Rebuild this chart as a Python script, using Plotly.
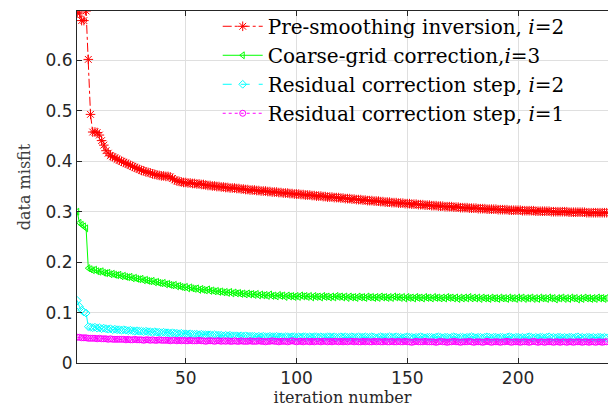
import plotly.graph_objects as go

iterations = list(range(1, 241))

pre_smoothing_i2 = [
    0.694, 0.694, 0.679, 0.679, 0.698, 0.602, 0.493, 0.458, 0.458, 0.457, 0.452, 0.441, 0.432, 0.421, 0.416, 0.411, 0.409, 0.407, 0.404, 0.402,
    0.400, 0.398, 0.396, 0.394, 0.392, 0.390, 0.388, 0.386, 0.384, 0.382, 0.381, 0.379, 0.378, 0.377, 0.375, 0.374, 0.373, 0.372, 0.371, 0.371,
    0.370, 0.370, 0.369, 0.366, 0.363, 0.361, 0.360, 0.359, 0.358, 0.358, 0.357, 0.357, 0.356, 0.356, 0.355, 0.355, 0.354, 0.354, 0.353, 0.352,
    0.352, 0.351, 0.351, 0.350, 0.350, 0.349, 0.349, 0.348, 0.348, 0.347, 0.347, 0.347, 0.346, 0.346, 0.345, 0.345, 0.344, 0.344, 0.343, 0.343,
    0.343, 0.342, 0.342, 0.341, 0.341, 0.341, 0.340, 0.340, 0.339, 0.339, 0.339, 0.338, 0.338, 0.337, 0.337, 0.337, 0.336, 0.336, 0.335, 0.335,
    0.335, 0.334, 0.334, 0.333, 0.333, 0.333, 0.332, 0.332, 0.331, 0.331, 0.331, 0.330, 0.330, 0.329, 0.329, 0.329, 0.328, 0.328, 0.328, 0.327,
    0.327, 0.326, 0.326, 0.326, 0.325, 0.325, 0.324, 0.324, 0.324, 0.323, 0.323, 0.322, 0.322, 0.322, 0.321, 0.321, 0.321, 0.320, 0.320, 0.319,
    0.319, 0.319, 0.318, 0.318, 0.318, 0.317, 0.317, 0.317, 0.316, 0.316, 0.316, 0.315, 0.315, 0.315, 0.314, 0.314, 0.314, 0.313, 0.313, 0.313,
    0.312, 0.312, 0.312, 0.311, 0.311, 0.311, 0.310, 0.310, 0.310, 0.310, 0.309, 0.309, 0.309, 0.308, 0.308, 0.308, 0.308, 0.307, 0.307, 0.307,
    0.307, 0.306, 0.306, 0.306, 0.306, 0.305, 0.305, 0.305, 0.305, 0.305, 0.304, 0.304, 0.304, 0.304, 0.304, 0.303, 0.303, 0.303, 0.303, 0.303,
    0.303, 0.302, 0.302, 0.302, 0.302, 0.302, 0.302, 0.301, 0.301, 0.301, 0.301, 0.301, 0.301, 0.301, 0.300, 0.300, 0.300, 0.300, 0.300, 0.300,
    0.300, 0.300, 0.299, 0.299, 0.299, 0.299, 0.299, 0.299, 0.299, 0.299, 0.298, 0.298, 0.298, 0.298, 0.298, 0.298, 0.298, 0.298, 0.298, 0.298,
]

coarse_grid_i3 = [
    0.300, 0.278, 0.274, 0.271, 0.267, 0.188, 0.186, 0.184, 0.185, 0.182, 0.181, 0.182, 0.179, 0.178, 0.179, 0.176, 0.177, 0.175, 0.174, 0.175,
    0.172, 0.173, 0.171, 0.170, 0.171, 0.168, 0.169, 0.167, 0.166, 0.167, 0.164, 0.165, 0.163, 0.162, 0.163, 0.160, 0.161, 0.159, 0.158, 0.159,
    0.156, 0.157, 0.155, 0.154, 0.155, 0.152, 0.153, 0.151, 0.150, 0.151, 0.148, 0.150, 0.148, 0.147, 0.148, 0.145, 0.147, 0.145, 0.144, 0.146,
    0.143, 0.144, 0.142, 0.143, 0.141, 0.142, 0.140, 0.141, 0.139, 0.141, 0.138, 0.140, 0.138, 0.139, 0.137, 0.138, 0.136, 0.138, 0.136, 0.137,
    0.135, 0.137, 0.134, 0.136, 0.134, 0.135, 0.133, 0.136, 0.133, 0.134, 0.132, 0.135, 0.133, 0.134, 0.131, 0.134, 0.132, 0.133, 0.131, 0.133,
    0.131, 0.134, 0.132, 0.133, 0.131, 0.133, 0.130, 0.133, 0.131, 0.132, 0.130, 0.133, 0.131, 0.132, 0.130, 0.132, 0.130, 0.133, 0.131, 0.132,
    0.130, 0.132, 0.129, 0.132, 0.130, 0.131, 0.129, 0.132, 0.130, 0.131, 0.129, 0.132, 0.130, 0.131, 0.129, 0.131, 0.129, 0.132, 0.130, 0.131,
    0.129, 0.131, 0.129, 0.132, 0.130, 0.131, 0.129, 0.131, 0.128, 0.131, 0.129, 0.130, 0.128, 0.131, 0.129, 0.130, 0.128, 0.131, 0.129, 0.130,
    0.128, 0.131, 0.129, 0.130, 0.128, 0.130, 0.128, 0.131, 0.129, 0.130, 0.128, 0.130, 0.127, 0.130, 0.128, 0.130, 0.128, 0.131, 0.128, 0.130,
    0.128, 0.130, 0.127, 0.130, 0.128, 0.129, 0.127, 0.130, 0.128, 0.129, 0.127, 0.130, 0.128, 0.129, 0.127, 0.130, 0.128, 0.129, 0.127, 0.130,
    0.128, 0.130, 0.127, 0.129, 0.128, 0.130, 0.127, 0.129, 0.127, 0.130, 0.128, 0.129, 0.127, 0.130, 0.128, 0.129, 0.126, 0.129, 0.128, 0.130,
    0.127, 0.129, 0.127, 0.130, 0.128, 0.129, 0.126, 0.129, 0.127, 0.130, 0.128, 0.129, 0.127, 0.129, 0.127, 0.130, 0.128, 0.129, 0.127, 0.129,
]

residual_i2 = [
    0.124, 0.112, 0.105, 0.101, 0.099, 0.072, 0.071, 0.070, 0.071, 0.069, 0.070, 0.068, 0.069, 0.068, 0.067, 0.068, 0.066, 0.067, 0.066, 0.066,
    0.065, 0.066, 0.065, 0.064, 0.065, 0.064, 0.063, 0.064, 0.063, 0.063, 0.062, 0.063, 0.062, 0.062, 0.061, 0.062, 0.061, 0.061, 0.060, 0.061,
    0.060, 0.060, 0.059, 0.060, 0.059, 0.059, 0.058, 0.059, 0.058, 0.058, 0.057, 0.058, 0.057, 0.057, 0.057, 0.056, 0.057, 0.056, 0.056, 0.056,
    0.056, 0.055, 0.056, 0.055, 0.055, 0.055, 0.054, 0.055, 0.054, 0.055, 0.054, 0.054, 0.054, 0.053, 0.054, 0.053, 0.054, 0.053, 0.053, 0.053,
    0.053, 0.052, 0.053, 0.052, 0.053, 0.052, 0.052, 0.053, 0.052, 0.052, 0.053, 0.052, 0.052, 0.051, 0.052, 0.052, 0.051, 0.052, 0.052, 0.051,
    0.052, 0.051, 0.052, 0.052, 0.051, 0.052, 0.051, 0.052, 0.052, 0.051, 0.052, 0.051, 0.051, 0.052, 0.052, 0.051, 0.052, 0.051, 0.051, 0.052,
    0.051, 0.052, 0.051, 0.051, 0.052, 0.051, 0.051, 0.052, 0.051, 0.051, 0.052, 0.051, 0.051, 0.052, 0.051, 0.050, 0.051, 0.052, 0.051, 0.051,
    0.051, 0.052, 0.051, 0.051, 0.052, 0.051, 0.051, 0.050, 0.051, 0.052, 0.051, 0.051, 0.050, 0.051, 0.051, 0.052, 0.051, 0.050, 0.051, 0.051,
    0.051, 0.050, 0.051, 0.052, 0.051, 0.050, 0.051, 0.051, 0.050, 0.051, 0.052, 0.051, 0.050, 0.051, 0.051, 0.050, 0.051, 0.051, 0.052, 0.051,
    0.050, 0.051, 0.051, 0.050, 0.051, 0.052, 0.051, 0.050, 0.051, 0.051, 0.050, 0.051, 0.051, 0.050, 0.051, 0.052, 0.051, 0.050, 0.051, 0.051,
    0.050, 0.051, 0.050, 0.051, 0.052, 0.051, 0.050, 0.051, 0.050, 0.051, 0.051, 0.050, 0.051, 0.052, 0.050, 0.051, 0.050, 0.051, 0.051, 0.050,
    0.051, 0.050, 0.051, 0.051, 0.050, 0.051, 0.052, 0.050, 0.051, 0.050, 0.051, 0.051, 0.050, 0.051, 0.050, 0.051, 0.051, 0.050, 0.051, 0.050,
]

residual_i1 = [
    0.051, 0.051, 0.050, 0.050, 0.050, 0.049, 0.049, 0.049, 0.049, 0.048, 0.049, 0.048, 0.048, 0.048, 0.047, 0.048, 0.047, 0.047, 0.047, 0.047,
    0.047, 0.047, 0.046, 0.047, 0.046, 0.046, 0.047, 0.046, 0.046, 0.046, 0.045, 0.046, 0.046, 0.045, 0.046, 0.045, 0.045, 0.046, 0.045, 0.045,
    0.045, 0.045, 0.044, 0.045, 0.045, 0.044, 0.045, 0.044, 0.045, 0.044, 0.044, 0.045, 0.044, 0.044, 0.044, 0.045, 0.044, 0.044, 0.043, 0.044,
    0.044, 0.044, 0.043, 0.044, 0.044, 0.043, 0.044, 0.043, 0.044, 0.043, 0.043, 0.044, 0.043, 0.043, 0.044, 0.043, 0.043, 0.043, 0.044, 0.043,
    0.043, 0.043, 0.044, 0.043, 0.043, 0.042, 0.043, 0.043, 0.044, 0.043, 0.043, 0.042, 0.043, 0.043, 0.043, 0.042, 0.043, 0.044, 0.043, 0.042,
    0.043, 0.043, 0.042, 0.043, 0.043, 0.042, 0.043, 0.042, 0.043, 0.043, 0.042, 0.043, 0.043, 0.042, 0.043, 0.042, 0.043, 0.043, 0.042, 0.043,
    0.042, 0.043, 0.042, 0.043, 0.043, 0.042, 0.043, 0.042, 0.042, 0.043, 0.042, 0.043, 0.042, 0.042, 0.043, 0.042, 0.043, 0.042, 0.042, 0.043,
    0.042, 0.042, 0.043, 0.042, 0.042, 0.043, 0.042, 0.042, 0.043, 0.042, 0.042, 0.041, 0.042, 0.043, 0.042, 0.042, 0.042, 0.043, 0.042, 0.042,
    0.042, 0.042, 0.041, 0.042, 0.043, 0.042, 0.042, 0.041, 0.042, 0.042, 0.043, 0.042, 0.042, 0.041, 0.042, 0.042, 0.042, 0.043, 0.042, 0.041,
    0.042, 0.042, 0.042, 0.041, 0.042, 0.043, 0.042, 0.041, 0.042, 0.042, 0.042, 0.041, 0.042, 0.042, 0.043, 0.042, 0.041, 0.042, 0.042, 0.042,
    0.041, 0.042, 0.042, 0.042, 0.041, 0.042, 0.043, 0.042, 0.041, 0.042, 0.042, 0.041, 0.042, 0.042, 0.042, 0.041, 0.042, 0.042, 0.041, 0.042,
    0.042, 0.041, 0.042, 0.042, 0.041, 0.042, 0.042, 0.042, 0.041, 0.042, 0.042, 0.041, 0.042, 0.042, 0.041, 0.042, 0.042, 0.041, 0.042, 0.042,
]

series_names = [
    "Pre-smoothing inversion, <i>i</i>=2",
    "Coarse-grid correction,<i>i</i>=3",
    "Residual correction step, <i>i</i>=2",
    "Residual correction step, <i>i</i>=1",
]
series_values = [pre_smoothing_i2, coarse_grid_i3, residual_i2, residual_i1]
series_colors = ["#ff0000", "#00ff00", "#00ffff", "#ff00ff"]
series_dash = ["dashdot", "solid", "dash", "dot"]
series_symbols = ["asterisk-open", "triangle-left-open", "diamond-open", "circle-open"]
series_msize = [8, 6, 6, 6]

x_tickvals = [50, 100, 150, 200]
y_tickvals = [0, 0.1, 0.2, 0.3, 0.4, 0.5, 0.6]

fig = go.Figure()
for name, vals, col, dash, sym, ms in zip(series_names, series_values, series_colors,
                                          series_dash, series_symbols, series_msize):
    fig.add_trace(go.Scatter(
        x=iterations, y=vals, name=name, mode="lines+markers",
        line=dict(color=col, width=1, dash=dash),
        marker=dict(symbol=sym, size=ms, color=col, line=dict(color=col, width=1)),
    ))

axis_col = "#262626"
grid_col = "#dfdfdf"
fig.update_layout(
    width=608, height=416,
    margin=dict(l=77, r=0, t=11, b=53),
    paper_bgcolor="white", plot_bgcolor="white",
    showlegend=True,
    legend=dict(
        x=0.265, y=1.012, xanchor="left", yanchor="top",
        bgcolor="rgba(0,0,0,0)", borderwidth=0,
        font=dict(family="DejaVu Serif", size=20, color="black"),
        tracegroupgap=0, itemwidth=40,
    ),
    xaxis=dict(
        range=[0.9, 240.6], tickvals=x_tickvals,
        showgrid=True, gridcolor=grid_col, gridwidth=1,
        showline=True, linecolor=axis_col, linewidth=1, mirror="ticks",
        ticks="inside", ticklen=5, tickcolor=axis_col,
        tickfont=dict(family="DejaVu Sans", size=17, color=axis_col),
        zeroline=False,
        title=dict(text="iteration number", font=dict(family="DejaVu Serif", size=16, color=axis_col), standoff=4),
    ),
    yaxis=dict(
        range=[0, 0.698], tickvals=y_tickvals, ticktext=["0", "0.1", "0.2", "0.3", "0.4", "0.5", "0.6"],
        showgrid=True, gridcolor=grid_col, gridwidth=1,
        showline=True, linecolor=axis_col, linewidth=1, mirror=False,
        ticks="inside", ticklen=5, tickcolor=axis_col,
        tickfont=dict(family="DejaVu Sans", size=17, color=axis_col),
        zeroline=False,
        title=dict(text="data misfit", font=dict(family="DejaVu Serif", size=16, color="#404040"), standoff=10),
    ),
)

fig.write_html("out.html")
